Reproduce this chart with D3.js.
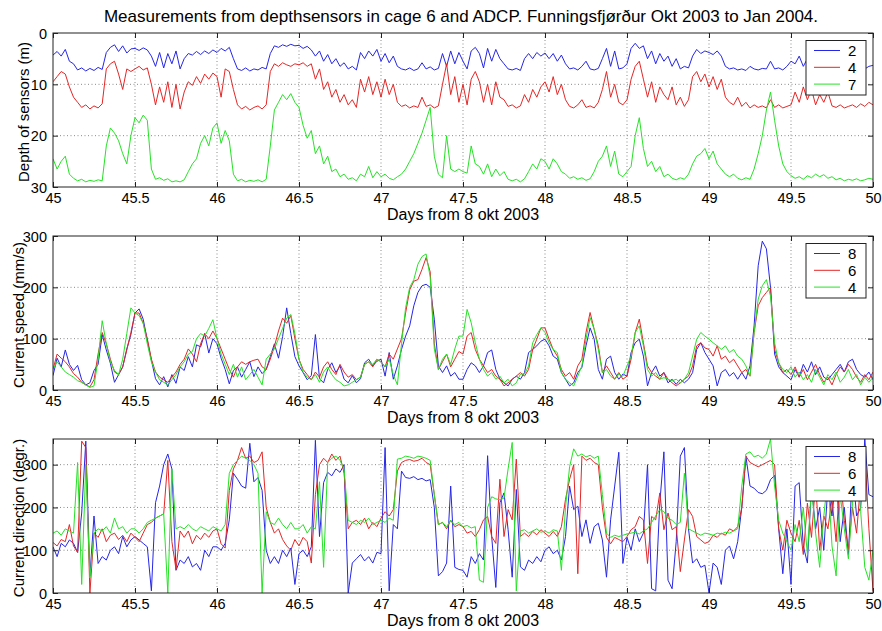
<!DOCTYPE html>
<html>
<head>
<meta charset="utf-8">
<script src="https://cdn.jsdelivr.net/npm/d3@7"></script>
<style>
  body { margin: 0; background: #fff; }
  svg { display: block; font-family: "Liberation Sans", Arial, Helvetica, sans-serif; }
  .grid line { stroke: #8a8a8a; stroke-width: 1; stroke-dasharray: 1, 2.5; }
</style>
</head>
<body>
<svg id="chart" width="882" height="631"></svg>
<script>
// Samples every 0.025 day from day 45 to day 50 (201 values per series)
const startDay = 45;
const stepDay = 0.025;

// Depth of sensors (m)
const depth2 = [
  4.3,3.6,4.5,3.2,5.5,6.0,7.2,6.8,7.4,6.9,7.3,6.7,7.1,3.8,2.8,2.3,3.6,2.5,3.9,3.1,
  3.0,3.4,2.9,3.3,4.5,6.5,3.8,6.8,4.0,6.0,3.5,7.0,5.0,4.0,4.3,3.6,4.2,3.5,4.0,3.3,
  3.8,3.0,3.5,2.8,5.0,7.0,7.3,6.8,7.4,7.0,7.2,6.7,7.0,4.0,2.5,2.8,2.3,2.6,2.2,2.5,
  2.4,3.0,2.6,3.3,4.5,3.5,5.5,4.2,6.0,5.0,6.5,5.8,7.0,6.5,7.2,3.8,5.0,3.5,4.5,3.2,
  5.5,4.0,5.8,4.5,6.5,7.0,7.2,6.8,7.3,7.0,5.8,7.0,6.6,7.2,6.9,4.0,6.5,3.5,6.0,3.8,
  5.5,7.0,3.5,2.8,4.0,6.8,3.0,5.5,3.2,5.0,6.0,7.0,7.2,6.9,7.3,5.0,4.0,5.0,3.8,4.5,
  3.9,5.0,4.0,5.5,4.3,6.0,7.0,6.8,7.2,6.5,5.5,7.0,7.2,6.9,5.0,3.0,6.5,3.5,7.0,6.8,
  6.0,3.0,2.0,3.0,2.5,5.0,3.5,6.0,4.0,5.5,4.5,6.5,5.0,7.0,6.5,6.8,4.5,3.2,4.0,3.5,
  3.8,4.2,3.5,4.5,6.5,7.0,6.8,7.2,7.0,7.3,6.5,7.0,7.2,6.9,7.0,5.5,7.0,6.8,7.2,6.5,
  5.5,6.0,4.5,6.5,5.0,6.8,4.8,6.5,5.5,6.8,6.5,7.0,6.5,6.0,6.8,7.0,6.5,6.8,7.0,6.5,
  6.3
];
const depth4 = [
  9.5,8.5,7.5,8.0,10.5,12.5,13.5,14.5,14.0,14.8,14.2,14.6,13.8,7.0,6.0,5.5,8.0,11.0,7.0,7.5,
  7.0,6.5,7.2,6.8,10.0,14.0,10.5,13.5,9.5,14.5,10.0,14.8,11.5,9.5,10.2,8.5,9.8,8.0,9.0,7.8,
  8.5,12.5,7.0,7.5,11.0,14.0,14.8,14.3,15.0,14.5,14.2,14.8,14.0,7.5,6.0,6.5,5.8,6.2,6.5,6.0,
  6.2,5.8,6.5,6.0,9.0,7.0,11.0,9.5,12.5,11.0,13.5,12.0,14.0,13.0,14.5,9.0,11.5,8.5,12.0,9.5,
  12.5,9.0,12.0,10.0,13.5,14.3,14.0,14.6,14.2,14.5,12.5,14.3,14.0,14.6,14.2,10.0,6.0,12.0,8.5,13.5,
  10.0,14.0,9.0,7.5,9.5,13.5,10.0,14.0,9.5,12.5,13.0,14.3,14.0,14.6,14.2,12.0,13.5,11.0,12.5,10.5,
  9.5,11.5,8.5,12.0,10.0,13.0,14.3,14.6,14.0,13.0,14.5,14.2,14.6,13.5,11.0,7.5,12.5,10.0,13.5,14.0,
  13.0,9.0,6.5,5.5,9.0,12.5,9.5,13.5,10.5,12.0,13.0,10.5,14.0,12.5,14.3,13.0,8.5,7.5,9.5,8.0,
  10.5,8.5,11.0,9.0,12.5,13.5,14.0,12.5,14.3,13.5,14.6,14.0,14.5,14.2,14.6,13.0,14.5,14.0,14.6,14.3,
  14.0,11.5,13.5,10.5,13.0,11.0,14.0,12.0,13.5,11.5,14.2,14.5,14.0,14.6,14.3,14.0,14.5,13.8,14.3,13.5,
  14.0
];
const depth7 = [
  24.5,26.5,25.0,24.0,27.5,28.3,28.8,28.5,29.0,28.7,28.9,28.6,28.8,22.0,18.5,19.5,21.0,23.5,25.5,20.0,
  16.5,17.5,16.0,17.0,26.5,28.5,28.2,28.7,28.4,29.0,28.8,29.0,28.6,27.0,25.5,24.5,21.5,20.0,22.0,18.5,
  17.5,21.5,19.0,21.0,27.5,28.8,28.5,29.0,28.7,28.9,28.6,29.0,28.5,22.0,15.0,13.5,12.0,13.0,11.8,13.5,
  14.5,18.0,20.5,19.0,23.5,22.0,25.5,24.0,27.0,26.5,28.0,27.5,28.5,28.2,28.8,27.5,28.0,26.0,28.2,27.0,
  28.0,27.5,28.3,28.6,28.0,27.5,26.5,25.0,23.5,21.5,19.5,17.0,14.5,24.0,27.5,28.2,20.0,26.5,27.0,26.5,
  27.0,27.3,22.0,25.5,26.0,27.5,25.5,28.0,26.5,27.8,27.0,28.5,28.8,28.5,29.0,28.4,27.0,25.5,26.5,24.5,
  25.0,26.5,24.5,25.5,27.0,27.5,28.3,28.0,28.5,28.2,28.7,28.4,27.0,25.0,24.0,22.0,26.0,23.0,27.5,28.0,
  27.0,26.0,20.0,16.5,22.5,26.0,25.0,27.0,26.0,28.0,27.5,28.3,28.6,28.2,28.5,27.5,25.5,24.0,23.5,22.5,
  24.5,23.0,25.5,26.5,27.5,28.0,27.5,28.3,28.6,28.2,28.5,26.5,23.5,20.0,15.0,11.5,17.0,22.0,25.5,27.0,
  27.8,28.3,28.0,28.5,27.8,28.2,27.5,28.0,27.6,28.3,28.0,28.6,28.3,28.8,28.5,28.7,28.4,28.8,28.6,28.3,
  28.5
];

// Current speed (mm/s) at ADCP bins 8, 6, 4
const speed8 = [
  28,62,45,78,50,38,48,20,10,14,38,50,108,78,52,15,30,45,80,108,
  150,158,138,97,58,22,10,26,6,30,13,45,38,65,45,88,84,110,72,100,
  90,62,40,12,38,45,25,40,55,26,45,32,40,65,90,62,104,160,110,65,
  47,34,20,28,108,22,14,40,53,34,47,21,14,28,14,22,53,60,47,56,
  60,27,73,21,47,79,105,125,164,190,203,206,200,138,47,34,47,27,34,21,
  21,40,53,47,34,47,73,78,40,21,14,8,21,27,21,34,73,79,86,95,
  99,86,66,60,34,21,8,14,34,44,86,121,99,40,21,60,66,34,21,31,
  27,73,92,99,66,8,34,47,27,34,14,21,11,21,14,21,34,79,92,73,
  60,47,8,34,40,27,34,21,34,21,47,125,242,290,275,200,70,45,34,27,
  20,40,25,50,35,55,30,45,25,20,30,40,50,35,55,60,40,30,25,35,
  20
];
const speed6 = [
  40,70,62,55,45,32,25,15,10,6,20,70,112,90,60,35,30,45,78,112,
  150,150,130,100,60,35,25,20,15,25,35,50,60,80,70,55,90,110,100,115,
  100,80,60,40,25,45,55,50,55,58,60,45,40,60,85,115,140,130,145,100,
  60,40,30,20,35,25,45,55,40,30,50,35,25,30,20,25,50,55,45,60,
  55,45,70,60,80,100,150,195,212,215,235,258,230,90,40,55,70,45,60,75,
  70,105,112,79,60,47,34,40,27,21,8,14,21,27,34,27,40,79,99,121,
  121,99,79,66,40,27,34,21,47,60,112,151,118,86,34,47,34,21,34,21,
  27,60,112,138,92,47,34,27,21,34,21,14,8,14,21,27,47,86,92,82,
  79,66,86,60,66,53,60,47,34,40,27,112,164,180,190,200,79,53,34,40,
  30,45,25,40,20,35,50,30,15,25,10,30,45,35,50,40,25,15,30,20,
  35
];
const speed4 = [
  40,55,45,35,30,25,18,15,10,5,8,60,135,90,55,38,30,60,110,160,
  150,145,130,90,55,35,20,15,10,20,30,45,55,70,75,100,110,105,120,137,
  100,70,50,30,50,25,45,20,30,40,25,10,60,70,80,100,120,140,147,110,
  60,35,25,20,30,15,35,45,30,20,15,8,10,15,20,25,50,55,50,60,
  55,45,60,30,10,90,160,200,215,245,260,265,220,80,40,60,70,50,80,105,
  105,157,131,92,60,40,27,34,21,27,14,21,8,14,31,31,47,92,108,121,
  112,92,79,73,34,21,14,8,27,47,99,141,118,79,34,40,27,21,31,27,
  47,66,112,125,86,40,27,34,21,24,21,18,21,14,21,34,66,99,112,105,
  99,92,86,79,86,73,79,66,60,47,27,112,177,203,215,183,92,53,40,34,
  45,25,35,20,30,15,40,25,10,30,20,35,15,25,40,20,30,10,25,15,
  25
];

// Current direction (degr.) at ADCP bins 8, 6, 4
const dir8 = [
  108,85,116,108,124,116,95,187,355,40,180,69,85,77,100,108,92,132,108,124,
  132,124,116,108,5,211,250,300,325,290,53,77,69,85,61,69,53,100,85,108,
  108,100,116,171,280,266,250,245,350,260,270,240,100,69,85,69,100,85,105,20,
  92,100,85,108,357,132,258,282,274,290,282,300,0,70,80,90,75,85,70,95,
  92,340,5,160,150,285,270,268,272,265,268,262,265,200,40,50,70,250,60,55,
  53,37,85,69,92,77,321,132,13,211,234,148,37,242,61,53,77,69,85,73,
  100,108,92,100,77,132,250,195,203,132,171,116,155,163,124,37,171,250,329,69,
  130,100,150,120,140,300,10,5,210,330,30,10,120,320,340,150,70,80,60,65,
  0,70,60,20,100,110,80,120,200,320,250,245,235,232,240,265,275,150,45,150,
  20,250,258,110,70,250,150,200,100,250,180,280,120,200,90,290,180,200,360,230,
  225
];
const dir6 = [
  118,110,125,120,160,110,95,355,340,0,140,130,150,120,135,140,125,135,120,140,
  130,120,140,160,165,175,180,185,310,120,55,145,130,145,115,135,125,140,130,145,
  150,115,105,240,290,310,340,315,320,305,310,330,200,165,140,150,125,110,100,125,
  110,130,120,70,230,300,315,305,325,310,320,280,150,165,170,160,175,150,165,155,
  175,190,180,195,285,305,310,312,308,310,315,305,300,230,160,165,150,170,155,160,
  155,140,144,132,148,171,179,132,116,266,132,195,171,313,132,140,132,144,136,148,
  140,132,144,132,155,219,266,300,45,320,310,315,305,300,200,130,115,130,125,120,
  132,148,155,179,171,69,179,171,234,148,187,148,155,50,124,195,179,132,124,116,
  120,135,130,140,135,150,145,155,200,320,305,300,295,300,305,310,300,150,100,170,
  140,120,170,90,210,130,260,100,180,150,220,120,280,170,100,200,140,260,330,150,
  5
];
const dir4 = [
  140,145,135,150,145,140,305,20,300,35,140,150,145,155,140,175,150,155,140,150,
  150,140,150,165,170,175,180,185,0,290,150,155,150,160,150,145,155,150,145,155,
  150,145,160,280,300,310,320,315,310,300,280,0,190,165,160,175,160,150,165,150,
  150,160,140,155,150,260,60,305,315,320,310,290,170,165,160,170,165,175,160,165,
  170,165,175,170,313,315,320,318,315,320,318,315,310,230,160,165,155,170,160,165,
  155,158,152,155,30,25,200,225,220,218,222,290,352,5,145,148,140,145,150,142,
  145,140,148,145,53,200,295,337,320,325,318,322,315,320,230,140,130,135,132,135,
  138,140,142,138,145,150,165,180,195,190,175,170,160,165,280,150,145,140,135,140,
  138,135,140,138,142,140,145,150,250,325,330,318,322,315,325,360,250,170,140,120,
  100,160,120,200,90,250,140,60,180,270,110,40,230,150,80,210,300,190,60,30,
  100
];

const xTicks = [45, 45.5, 46, 46.5, 47, 47.5, 48, 48.5, 49, 49.5, 50];
const depthTicks = [0, 10, 20, 30];
const speedTicks = [0, 100, 200, 300];
const dirTicks = [0, 100, 200, 300];

const titleText = 'Measurements from depthsensors in cage 6 and ADCP. Funningsfjørður Okt 2003 to Jan 2004.';
const xLabelText = 'Days from 8 okt 2003';

const days = depth2.map((_, i) => startDay + i * stepDay);

const colors = { blue: '#2626e6', red: '#e42626', green: '#26e226' };

const svg = d3.select('#chart');
const left = 53;
const width = 820;
const height = 154;

const x = d3.scaleLinear().domain([45, 50]).range([0, width]);

const panels = [
  {
    top: 33, domain: [0, 30], reversed: true, ticks: depthTicks,
    ylabel: 'Depth of sensors (m)', ylabelX: 24,
    series: [
      { name: '2', values: depth2, color: colors.blue },
      { name: '4', values: depth4, color: colors.red },
      { name: '7', values: depth7, color: colors.green }
    ]
  },
  {
    top: 236, domain: [0, 300], reversed: false, ticks: speedTicks,
    ylabel: 'Current speed (mm/s)', ylabelX: 19,
    series: [
      { name: '8', values: speed8, color: colors.blue },
      { name: '6', values: speed6, color: colors.red },
      { name: '4', values: speed4, color: colors.green }
    ]
  },
  {
    top: 439, domain: [0, 360], reversed: false, ticks: dirTicks,
    ylabel: 'Current direction (degr.)', ylabelX: 19,
    series: [
      { name: '8', values: dir8, color: colors.blue },
      { name: '6', values: dir6, color: colors.red },
      { name: '4', values: dir4, color: colors.green }
    ]
  }
];

// Title
svg.append('text')
  .attr('x', left + width / 2 - 2)
  .attr('y', 22)
  .attr('text-anchor', 'middle')
  .style('font-size', '17px')
  .text(titleText);

panels.forEach((p, pi) => {
  const y = d3.scaleLinear()
    .domain(p.domain)
    .range(p.reversed ? [0, height] : [height, 0]);

  const g = svg.append('g').attr('transform', `translate(${left},${p.top})`);

  g.append('defs').append('clipPath').attr('id', 'clip' + pi)
    .append('rect').attr('width', width).attr('height', height);

  // Dotted grid
  const grid = g.append('g').attr('class', 'grid');
  grid.selectAll('.vx')
    .data(xTicks.slice(1, -1))
    .enter().append('line')
    .attr('x1', d => x(d)).attr('x2', d => x(d))
    .attr('y1', 0).attr('y2', height);
  grid.selectAll('.hy')
    .data(p.ticks.filter(t => t > p.domain[0] && t < p.domain[1]))
    .enter().append('line')
    .attr('x1', 0).attr('x2', width)
    .attr('y1', d => y(d)).attr('y2', d => y(d));

  // Data lines
  const line = d3.line()
    .x((d, i) => x(days[i]))
    .y(d => y(d));

  const lines = g.append('g').attr('clip-path', `url(#clip${pi})`);
  p.series.forEach(s => {
    lines.append('path')
      .datum(s.values)
      .attr('fill', 'none')
      .attr('stroke', s.color)
      .attr('stroke-width', 1)
      .attr('stroke-linejoin', 'round')
      .attr('d', line);
  });

  // Axes with inward ticks on all four sides
  const bottom = g.append('g')
    .attr('transform', `translate(0,${height})`)
    .call(d3.axisBottom(x).tickValues(xTicks).tickFormat(d => String(d))
      .tickSizeInner(-5).tickSizeOuter(0).tickPadding(6));
  g.append('g')
    .call(d3.axisTop(x).tickValues(xTicks).tickFormat('')
      .tickSizeInner(-5).tickSizeOuter(0));
  const leftAxis = g.append('g')
    .call(d3.axisLeft(y).tickValues(p.ticks).tickFormat(d => String(d))
      .tickSizeInner(-5).tickSizeOuter(0).tickPadding(6));
  g.append('g')
    .attr('transform', `translate(${width},0)`)
    .call(d3.axisRight(y).tickValues(p.ticks).tickFormat('')
      .tickSizeInner(-5).tickSizeOuter(0));

  g.selectAll('.domain').remove();
  g.selectAll('.tick line').attr('stroke', '#222');
  g.selectAll('.tick text').style('font-size', '14.5px').attr('fill', '#000');
  bottom.selectAll('.tick text').attr('dy', '0.68em');
  leftAxis.selectAll('.tick text').attr('dy', '0.36em');

  g.append('rect')
    .attr('width', width).attr('height', height)
    .attr('fill', 'none').attr('stroke', '#222').attr('stroke-width', 1);

  // Axis labels
  g.append('text')
    .attr('x', width / 2)
    .attr('y', height + 33)
    .attr('text-anchor', 'middle')
    .style('font-size', '16px')
    .text(xLabelText);

  svg.append('text')
    .attr('transform', `translate(${p.ylabelX},${p.top + height / 2 + 2}) rotate(-90)`)
    .attr('text-anchor', 'middle')
    .attr('dy', '0.35em')
    .style('font-size', '15px')
    .text(p.ylabel);

  // Legend
  const lg = g.append('g').attr('transform', 'translate(753,7.5)');
  lg.append('rect')
    .attr('width', 60).attr('height', 54.5)
    .attr('fill', '#fff').attr('stroke', '#222').attr('stroke-width', 1);
  p.series.forEach((s, i) => {
    const ly = 10 + i * 16.8;
    lg.append('line')
      .attr('x1', 8).attr('x2', 34)
      .attr('y1', ly).attr('y2', ly)
      .attr('stroke', s.color).attr('stroke-width', 1);
    lg.append('text')
      .attr('x', 42).attr('y', ly)
      .attr('dy', '0.36em')
      .style('font-size', '15px')
      .text(s.name);
  });
});
</script>
</body>
</html>
